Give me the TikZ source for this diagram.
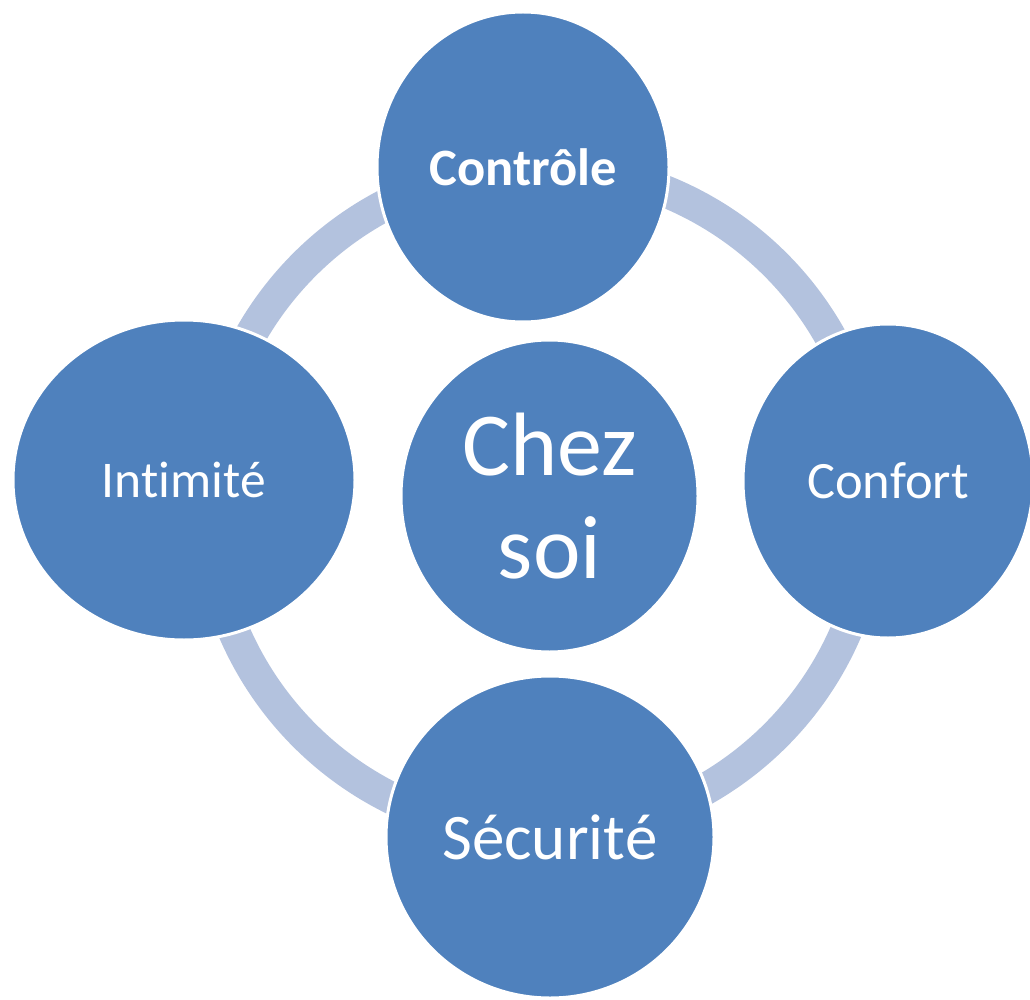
\documentclass[tikz,border=0pt]{standalone}
\usepackage{fontspec}
\setmainfont{Carlito}[Ligatures=NoCommon, RawFeature={-liga;-clig;-dlig}]
\usetikzlibrary{shapes.geometric}
\definecolor{bubble}{HTML}{4F81BD}
\definecolor{ringc}{HTML}{B3C2DE}
\tikzset{
  bubble/.style={ellipse, fill=bubble, draw=white, line width=3pt, inner sep=0pt,
    text=white, align=center},
  ringline/.style={draw=ringc, line width=32pt}
}
\begin{document}
\begin{tikzpicture}[x=1pt,y=-1pt]
\useasboundingbox (0,0) rectangle (1030,1000);
\coordinate (ctr) at (540,500);
\draw[ringline] (ctr) circle[radius=333pt];
\node[bubble, minimum width=292pt, minimum height=310pt, font=\fontsize{52.5}{62}\selectfont\bfseries] (ctrl) at (523,167) {Contrôle};
\node[bubble, minimum width=342pt, minimum height=320pt, font=\fontsize{51.5}{61}\selectfont] (intim) at (184,480) {Int\kern0pt imit\kern0pt é};
\node[bubble, minimum width=290pt, minimum height=314pt, font=\fontsize{52.5}{62}\selectfont] (conf) at (888,481) {Confort};
\node[bubble, minimum width=328pt, minimum height=322pt, font=\fontsize{65}{78}\selectfont] (secu) at (550,837) {Sécurit\kern0pt é};
\node[bubble, minimum width=297pt, minimum height=312pt, font=\fontsize{90}{103}\selectfont] (chez) at (549.5,496) {Chez\\soi};
\end{tikzpicture}
\end{document}
